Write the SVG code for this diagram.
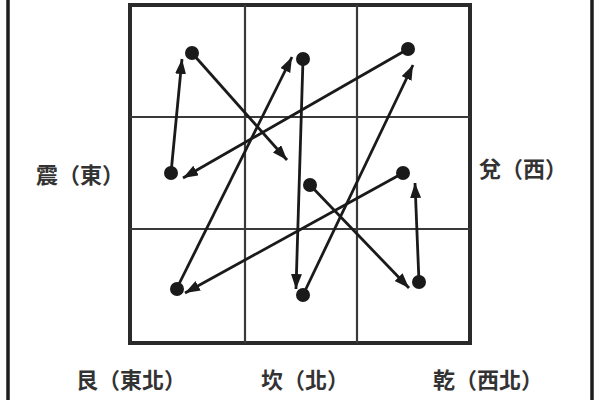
<svg xmlns="http://www.w3.org/2000/svg" width="600" height="400" viewBox="0 0 600 400">
<style>
.frame{stroke:#1e1e1e;stroke-width:3.5;fill:none}
.grid{stroke:#3a3a3a;stroke-width:2.2;fill:none}
.border{stroke:#2a2a2a;stroke-width:4;fill:none}
.arr{stroke:#1a1a1a;stroke-width:2.8;fill:none;marker-end:url(#ah)}
.dot{fill:#1a1a1a}
.lbl{font-family:"Noto Sans CJK TC","Noto Sans CJK SC",serif;font-size:22px;font-weight:bold;fill:#333;text-anchor:middle;dominant-baseline:central}
</style>
<defs>
<marker id="ah" markerUnits="userSpaceOnUse" markerWidth="18" markerHeight="14" refX="15" refY="5.5" orient="auto">
<path d="M0,0 L15,5.5 L0,11 Z" fill="#1a1a1a"/>
</marker>
</defs>
<rect width="600" height="400" fill="#fff"/>
<g id="frame">
<line class="frame" x1="8" y1="0" x2="8" y2="400"/>
<line class="frame" x1="592" y1="0" x2="592" y2="400"/>
</g>
<g id="grid">
<rect class="border" x="130" y="5" width="340" height="338"/>
<line class="grid" x1="245" y1="5" x2="245" y2="343"/>
<line class="grid" x1="357" y1="5" x2="357" y2="343"/>
<line class="grid" x1="130" y1="117" x2="470" y2="117"/>
<line class="grid" x1="130" y1="229" x2="470" y2="229"/>
</g>
<g id="connectors">
<line class="arr" x1="171" y1="173" x2="182" y2="59"/>
<line class="arr" x1="192" y1="53" x2="287" y2="160"/>
<line class="arr" x1="310" y1="185" x2="409" y2="288"/>
<line class="arr" x1="419" y1="282" x2="415" y2="183"/>
<line class="arr" x1="403" y1="173" x2="185" y2="293"/>
<line class="arr" x1="177" y1="288" x2="292" y2="57"/>
<line class="arr" x1="303" y1="59" x2="296" y2="289"/>
<line class="arr" x1="303" y1="295" x2="413" y2="65"/>
<line class="arr" x1="408" y1="49" x2="183" y2="178"/>
</g>
<g id="n1"><circle class="dot" cx="192" cy="53" r="7"/></g>
<g id="n2"><circle class="dot" cx="303" cy="59" r="7"/></g>
<g id="n3"><circle class="dot" cx="408" cy="49" r="7"/></g>
<g id="n4"><circle class="dot" cx="171" cy="173" r="7"/></g>
<g id="n5"><circle class="dot" cx="310" cy="185" r="7"/></g>
<g id="n6"><circle class="dot" cx="403" cy="173" r="7"/></g>
<g id="n7"><circle class="dot" cx="177" cy="289" r="7"/></g>
<g id="n8"><circle class="dot" cx="303" cy="295" r="7"/></g>
<g id="n9"><circle class="dot" cx="419" cy="282" r="7"/></g>
<g id="labels">
<text class="lbl" x="80" y="173">震（東）</text>
<text class="lbl" x="523" y="167">兌（西）</text>
<text class="lbl" x="131" y="378">艮（東北）</text>
<text class="lbl" x="305" y="378">坎（北）</text>
<text class="lbl" x="488" y="378">乾（西北）</text>
</g>
</svg>
